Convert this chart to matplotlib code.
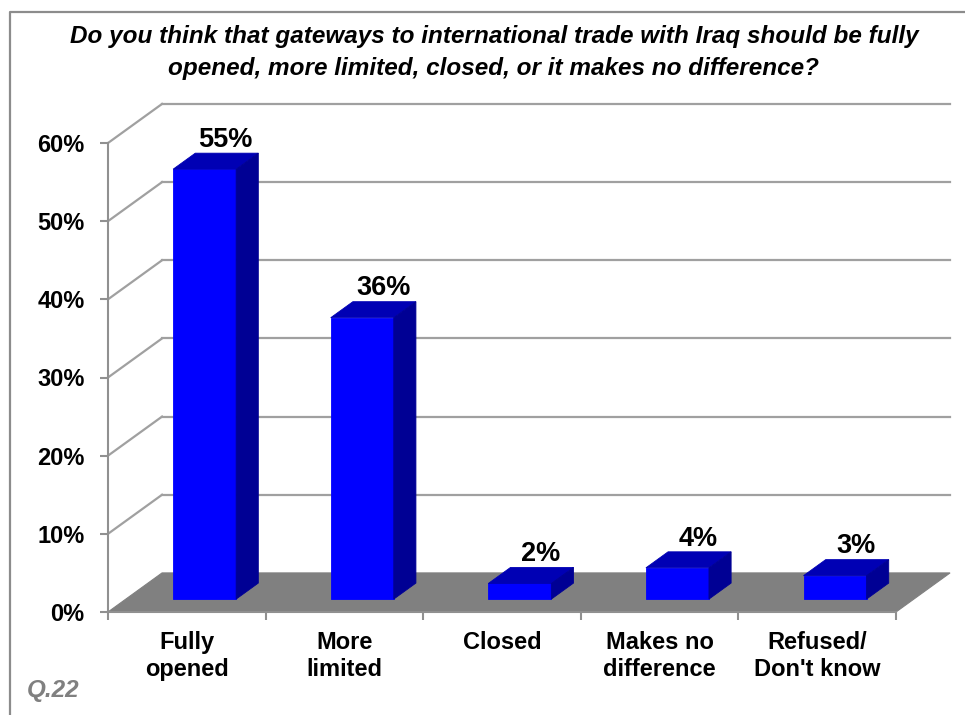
import matplotlib
matplotlib.use("Agg")
import matplotlib.pyplot as plt
from matplotlib.patches import Polygon
from matplotlib.lines import Line2D
from matplotlib.ticker import FixedLocator, NullFormatter

plt.rcParams['font.family'] = ['Liberation Sans', 'DejaVu Sans']

# ---- data ----
categories = ["Fully\nopened", "More\nlimited", "Closed", "Makes no\ndifference", "Refused/\nDon't know"]
values = [55, 36, 2, 4, 3]
bar_labels = ["55%", "36%", "2%", "4%", "3%"]
y_ticks = [0, 10, 20, 30, 40, 50, 60]
y_tick_labels = ["0%", "10%", "20%", "30%", "40%", "50%", "60%"]
title = ("Do you think that gateways to international trade with Iraq should be fully\n"
         "opened, more limited, closed, or it makes no difference?")
footnote = "Q.22"

# ---- styling ----
W, H = 965, 715
DX, DY = 0.343, 5.0          # oblique depth of the plot box (data units)
F0, F1 = 0.33, 0.74          # bar front / back position within the depth
BAR_W = 0.4
FRONT, TOP, SIDE = "#0000FF", "#0000B4", "#000094"
GRID = "#A0A0A0"
FLOOR = "#808080"
AXIS = "#909090"

fig = plt.figure(figsize=(W / 100, H / 100), dpi=100)
fig.patch.set_facecolor("white")

# outer frame (left and top edges)
fig.add_artist(Line2D([10 / W, 10 / W, 1.0], [0.0, 1 - 12 / H, 1 - 12 / H],
                      transform=fig.transFigure, color="#8C8C8C", lw=1.6))

ax = fig.add_axes([108 / W, 103 / H, 788 / W, 469 / H])
ax.set_xlim(0, len(categories))
ax.set_ylim(0, 60)
ax.patch.set_visible(False)
for s in ("top", "right"):
    ax.spines[s].set_visible(False)
for s in ("left", "bottom"):
    ax.spines[s].set_color(AXIS)
    ax.spines[s].set_linewidth(1.5)

# y axis ticks and labels
ax.set_yticks(y_ticks)
ax.set_yticklabels(y_tick_labels, fontsize=17, fontweight="bold")
ax.tick_params(axis="y", direction="out", length=6, width=1.5, color=AXIS, pad=11)

# x axis: labels at category centers, tick marks at category boundaries
n = len(categories)
ax.set_xticks([i + 0.5 for i in range(n)])
ax.set_xticklabels(categories, fontsize=17, fontweight="bold", linespacing=1.22)
ax.xaxis.set_minor_locator(FixedLocator(list(range(n + 1))))
ax.xaxis.set_minor_formatter(NullFormatter())
ax.tick_params(axis="x", which="major", length=0, pad=14)
ax.tick_params(axis="x", which="minor", direction="out", length=6, width=1.5, color=AXIS)

# side wall diagonals and back wall gridlines
for v in y_ticks[1:]:
    ax.plot([0, DX], [v, v + DY], color=GRID, lw=1.6, clip_on=False, zorder=1)
    ax.plot([DX, n + DX], [v + DY, v + DY], color=GRID, lw=1.6, clip_on=False, zorder=1)

# floor
ax.add_patch(Polygon([(0, 0), (n, 0), (n + DX, DY), (DX, DY)], closed=True,
                     facecolor=FLOOR, edgecolor=FLOOR, lw=0.8, clip_on=False, zorder=2))

# 3-D bars
for i, (v, lab) in enumerate(zip(values, bar_labels)):
    x0 = i + 0.5 - BAR_W / 2 + F0 * DX
    x1 = x0 + BAR_W
    y0 = F0 * DY
    y1 = y0 + v
    ddx, ddy = (F1 - F0) * DX, (F1 - F0) * DY
    front = [(x0, y0), (x1, y0), (x1, y1), (x0, y1)]
    top = [(x0, y1), (x1, y1), (x1 + ddx, y1 + ddy), (x0 + ddx, y1 + ddy)]
    side = [(x1, y0), (x1 + ddx, y0 + ddy), (x1 + ddx, y1 + ddy), (x1, y1)]
    for pts, c in ((front, FRONT), (top, TOP), (side, SIDE)):
        ax.add_patch(Polygon(pts, closed=True, facecolor=c, edgecolor=c, lw=0.6,
                             clip_on=False, zorder=3))
    ax.annotate(lab, xy=(i + 0.5 + 0.72 * DX, y1 + ddy), xytext=(0, 4.5),
                textcoords="offset points", ha="center", va="baseline",
                fontsize=19.5, fontweight="bold", zorder=5, annotation_clip=False)

# title and footnote
fig.text(494 / W, 1 - 52 / H, title, ha="center", va="center", ma="center",
         fontsize=17.5, fontweight="bold", fontstyle="italic", linespacing=1.5)
fig.text(27 / W, 1 - 690 / H, footnote, ha="left", va="center",
         fontsize=17.5, fontweight="bold", fontstyle="italic", color="#808080")

fig.savefig("out.png", dpi=100, facecolor="white")
